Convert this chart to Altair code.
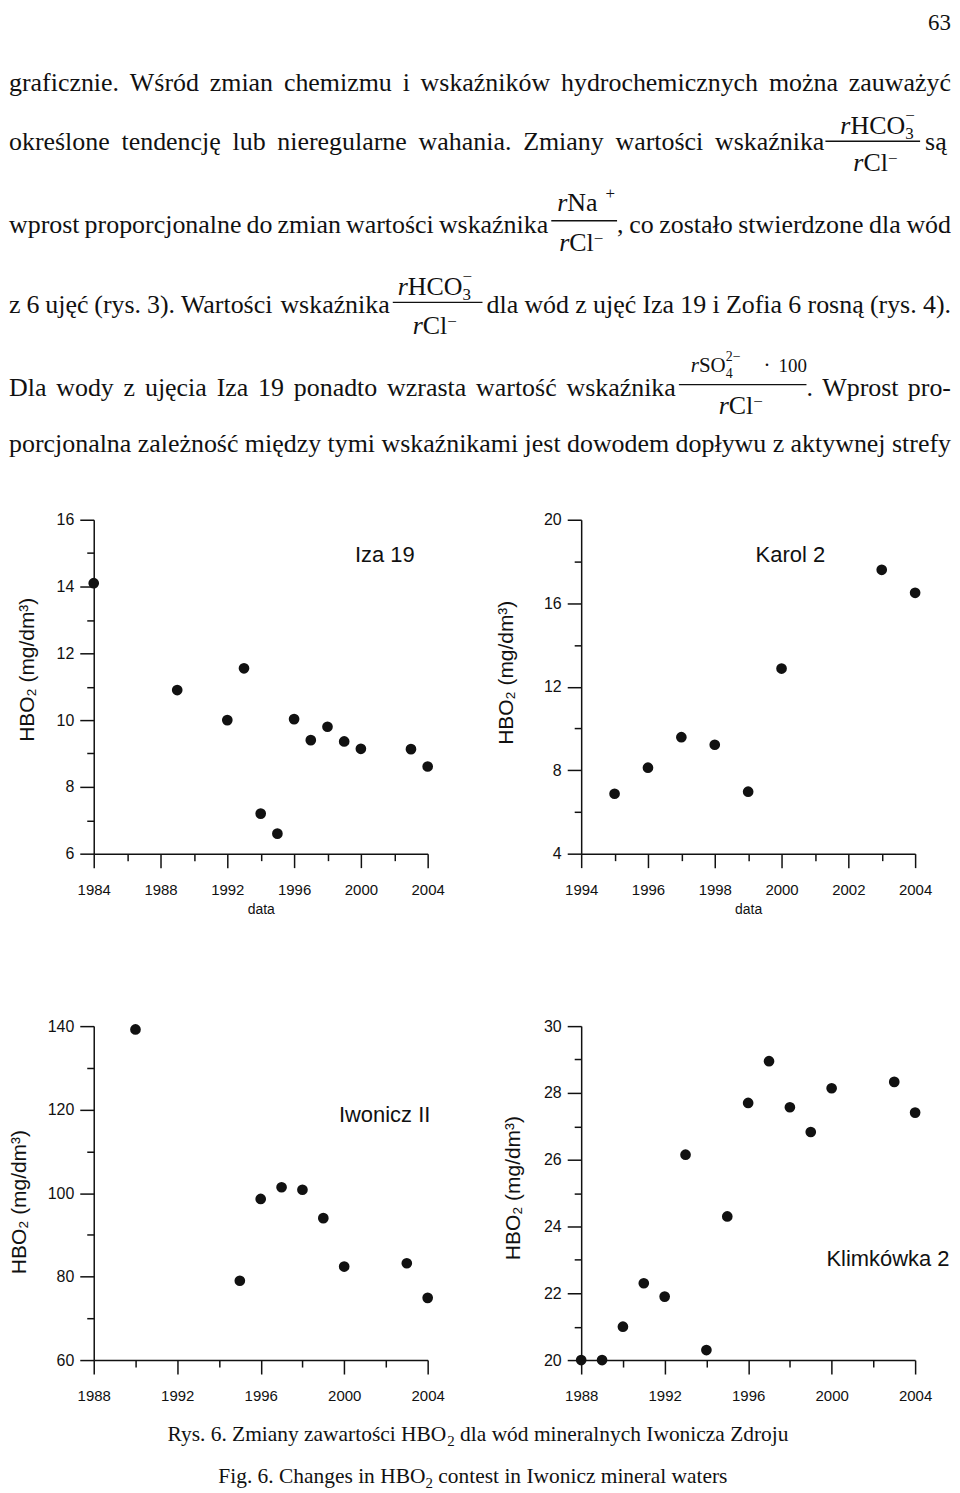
import altair as alt
import pandas as pd

# ---------------- chart data ----------------
iza_years = [1984, 1989, 1992, 1993, 1994, 1995, 1996, 1997, 1998, 1999, 2000, 2003, 2004]
iza_hbo2 = [14.1, 10.9, 10.0, 11.55, 7.2, 6.6, 10.03, 9.4, 9.8, 9.36, 9.14, 9.13, 8.61]

karol_years = [1995, 1996, 1997, 1998, 1999, 2000, 2003, 2004]
karol_hbo2 = [6.87, 8.12, 9.58, 9.22, 6.97, 12.87, 17.6, 16.5]

iwonicz_years = [1990, 1995, 1996, 1997, 1998, 1999, 2000, 2003, 2004]
iwonicz_hbo2 = [139.2, 79.0, 98.6, 101.4, 100.8, 94.0, 82.4, 83.2, 74.9]

klim_years = [1988, 1989, 1990, 1991, 1992, 1993, 1994, 1995, 1996, 1997, 1998, 1999, 2000, 2003, 2004]
klim_hbo2 = [20.0, 20.0, 21.0, 22.3, 21.9, 26.15, 20.3, 24.3, 27.7, 28.95, 27.57, 26.83, 28.14, 28.33, 27.41]

panel_names = ["Iza 19", "Karol 2", "Iwonicz II", "Klimkówka 2"]
y_title = "HBO₂ (mg/dm³)"
x_title = "data"

# ---------------- page text ----------------
page_number = "63"
line1 = "graficznie. Wśród zmian chemizmu i wskaźników hydrochemicznych można zauważyć"
line2a = "określone tendencję lub nieregularne wahania. Zmiany wartości wskaźnika"
line2b = "są"
line3a = "wprost proporcjonalne do zmian wartości wskaźnika"
line3b = ", co zostało stwierdzone dla wód"
line4a = "z 6 ujęć (rys. 3). Wartości wskaźnika"
line4b = "dla wód z ujęć Iza 19 i Zofia 6 rosną (rys. 4)."
line5a = "Dla wody z ujęcia Iza 19 ponadto wzrasta wartość wskaźnika"
line5b = ". Wprost pro-"
line6 = "porcjonalna zależność między tymi wskaźnikami jest dowodem dopływu z aktywnej strefy"
caption_pl = ["Rys. 6. Zmiany zawartości HBO", "2", "dla wód mineralnych Iwonicza Zdroju"]
caption_en = ["Fig. 6. Changes in HBO", "2", "contest in Iwonicz mineral waters"]

# ---------------- text layout helpers (Times metrics) ----------------
W = {
    'a': 444, 'b': 500, 'c': 444, 'd': 500, 'e': 444, 'f': 333, 'g': 500, 'h': 500, 'i': 278,
    'j': 278, 'k': 500, 'l': 278, 'm': 778, 'n': 500, 'o': 500, 'p': 500, 'q': 500, 'r': 333,
    's': 389, 't': 278, 'u': 500, 'v': 500, 'w': 722, 'x': 500, 'y': 500, 'z': 444,
    'ą': 444, 'ć': 444, 'ę': 444, 'ł': 278, 'ń': 500, 'ó': 500, 'ś': 389, 'ź': 444, 'ż': 444,
    'A': 722, 'B': 667, 'C': 667, 'D': 722, 'E': 611, 'F': 556, 'G': 722, 'H': 722, 'I': 333,
    'J': 389, 'K': 722, 'L': 611, 'M': 889, 'N': 722, 'O': 722, 'P': 556, 'Q': 722, 'R': 667,
    'S': 556, 'T': 611, 'U': 722, 'V': 722, 'W': 944, 'X': 722, 'Y': 722, 'Z': 611,
    ' ': 250, '.': 250, ',': 250, '(': 333, ')': 333, '-': 333, '+': 564, '−': 564, '·': 250,
}
W_IT = {'r': 389}


def tw(s, fs, it=False):
    tab = W_IT if it else W
    return sum(tab.get(c, W.get(c, 500)) for c in s) * fs / 1000.0


MARGIN = 8
CAP_TOP = MARGIN + 1353  # page y of caption block
body_items, cap_items = [], []


def put(store, oy, t, x, y, fs, it=False):
    store.append({"x": round(x - MARGIN, 2), "y": round(y - oy, 2), "t": t, "fs": fs, "it": it})


def justify(text, x0, x1, y, fs=26):
    words = text.split(" ")
    ws = [tw(w, fs) for w in words]
    gap = (x1 - x0 - sum(ws)) / (len(words) - 1) if len(words) > 1 else 0
    x = x0
    for w, wd in zip(words, ws):
        put(body_items, MARGIN, w, x, y, fs)
        x += wd + gap


def P(t, fs=26, it=False, dy=0, adv=True, dx=0, at=None):
    return dict(t=t, fs=fs, it=it, dy=dy, adv=adv, dx=dx, at=at)


def run(store, oy, pieces, x, y):
    for p in pieces:
        if p["at"] is not None:
            x = p["at"]
        x += p["dx"]
        put(store, oy, p["t"], x, y + p["dy"], p["fs"], p["it"])
        if p["adv"]:
            x += tw(p["t"], p["fs"], p["it"])


L, R = 8, 953
put(body_items, MARGIN, page_number, 930, 27, 23)
justify(line1, L, R, 88.3)
justify(line2a, L, 826, 146.7)
put(body_items, MARGIN, line2b, 927, 146.7, 26)
justify(line3a, L, 549, 230.5)
justify(line3b, 618, R, 230.5)
justify(line4a, L, 390, 311)
justify(line4b, 487, R, 311)
justify(line5a, L, 677, 394)
justify(line5b, 808, R, 394)
justify(line6, L, R, 450.5)

hco3 = [P("r", it=True), P("HCO"), P("3", 17, dy=5, adv=False), P("−", 17, dy=-13)]
rcl = [P("r", it=True), P("Cl"), P("−", 17, dy=-7)]
rna = [P("r", it=True), P("Na"), P("+", 17, dy=-12, dx=8)]
rso4 = [P("r", 21, it=True), P("SO", 21), P("4", 14, dy=6, adv=False), P("2−", 14, dy=-11),
        P("·", 21, at=765), P("100", 19, at=780)]

run(body_items, MARGIN, hco3, 842, 131)
run(body_items, MARGIN, rcl, 855, 168)
run(body_items, MARGIN, rna, 558, 208)
run(body_items, MARGIN, rcl, 560, 248)
run(body_items, MARGIN, hco3, 398, 293)
run(body_items, MARGIN, rcl, 413, 332)
run(body_items, MARGIN, rso4, 692, 370)
run(body_items, MARGIN, rcl, 720, 412)

bars = pd.DataFrame(
    [(827, 922, 138.3), (552, 618, 218), (393, 483, 300), (680, 808, 382.5)],
    columns=["x", "x2", "y"],
)
bars = bars.assign(x=bars.x - MARGIN, x2=bars.x2 - MARGIN, y=bars.y - MARGIN)

CAP_FS, CAP_SUB = 21.5, 15
SPACE = tw(" ", CAP_FS)
run(cap_items, CAP_TOP, [P(caption_pl[0], CAP_FS), P(caption_pl[1], CAP_SUB, dy=5),
                         P(caption_pl[2], CAP_FS, dx=SPACE)], 167, 1442)
run(cap_items, CAP_TOP, [P(caption_en[0], CAP_FS), P(caption_en[1], CAP_SUB, dy=5),
                         P(caption_en[2], CAP_FS, dx=SPACE)], 218, 1484)

INK = "#111111"
PAGE_W = 944


def text_layers(items, font):
    df = pd.DataFrame(items)
    layers = []
    for italic in (False, True):
        sub = df[df.it == italic][["x", "y", "t", "fs"]]
        if len(sub) == 0:
            continue
        kw = dict(align="left", baseline="alphabetic", font=font, color=INK)
        if italic:
            kw["fontStyle"] = "italic"
        layers.append(
            alt.Chart(sub).mark_text(**kw).encode(
                x=alt.X("x:Q", scale=None, axis=None),
                y=alt.Y("y:Q", scale=None, axis=None),
                text="t:N",
                size=alt.Size("fs:Q", scale=None),
            )
        )
    return layers


rules = alt.Chart(bars).mark_rule(color=INK, strokeWidth=1.4).encode(
    x=alt.X("x:Q", scale=None, axis=None), x2="x2:Q", y=alt.Y("y:Q", scale=None, axis=None)
)
text_chart = alt.layer(*text_layers(body_items, "Liberation Serif"), rules).properties(width=PAGE_W, height=510)
caption_chart = alt.layer(*text_layers(cap_items, "Liberation Serif")).properties(width=PAGE_W, height=121)

# ---------------- scatter panels ----------------
SANS = "Liberation Sans"
PW = 335          # panel plot size
LEFT_X = [85, 574]  # plot-area left edges of the two panels in a row


def axis_common():
    return dict(grid=False, domainColor=INK, domainWidth=1.5, tickColor=INK, tickWidth=1.5,
                labelColor=INK, labelFont=SANS, labelFlush=False, labelOverlap=False,
                titleFont=SANS, titleColor=INK, titleFontWeight="normal")


def panel_layers(years, vals, name, x0, xdom, xstep, xlab, ydom, ystep, ylab,
                 name_x, name_y, yt_x, yt_y, show_xtitle):
    df = pd.DataFrame({"rok": years, "hbo2": vals})
    xkw = axis_common()
    xkw.update(
        orient="bottom",
        values=list(range(xdom[0], xdom[1] + 1, xstep)), format="d",
        labelExpr=f"datum.value % {xlab} === 0 ? datum.label : ''",
        tickSize=alt.condition(f"datum.value % {xlab} === 0", alt.value(14), alt.value(7)),
        labelPadding=15, labelFontSize=15,
    )
    if show_xtitle:
        xkw.update(title=x_title, titleFontSize=14, titleX=x0 + PW / 2, titleY=60,
                   titleAlign="center", titleBaseline="alphabetic")
    else:
        xkw.update(title="")
    ykw = axis_common()
    ykw.update(
        orient="left", offset=-x0,
        values=list(range(ydom[0], ydom[1] + 1, ystep)), format="d",
        labelExpr=f"datum.value % {ylab} === 0 ? datum.label : ''",
        tickSize=alt.condition(f"datum.value % {ylab} === 0", alt.value(14), alt.value(7)),
        labelPadding=6, labelFontSize=16,
        title=y_title, titleFontSize=21, titleX=yt_x, titleY=yt_y, titleAngle=270,
        titleAlign="center", titleBaseline="alphabetic",
    )
    pts = alt.Chart(df).mark_circle(size=115, color=INK, opacity=1).encode(
        x=alt.X("rok:Q", scale=alt.Scale(domain=list(xdom), range=[x0, x0 + PW], nice=False, zero=False),
                axis=alt.Axis(**xkw)),
        y=alt.Y("hbo2:Q", scale=alt.Scale(domain=list(ydom), nice=False, zero=False), axis=alt.Axis(**ykw)),
    )
    label = alt.Chart(pd.DataFrame({"n": [name]})).mark_text(
        align="left", baseline="alphabetic", font=SANS, fontSize=22, color=INK
    ).encode(x=alt.value(x0 + name_x), y=alt.value(name_y), text="n:N")
    return pts, label


def row(a, b):
    pa, la = a
    pb, lb = b
    return alt.layer(pa, pb, la, lb).resolve_scale(x="independent", y="independent").properties(
        width=PAGE_W, height=PW
    )


def spacer(w, h):
    return alt.Chart(pd.DataFrame({"s": [""]})).mark_point(opacity=0, size=1).encode(
        x=alt.value(w / 2), y=alt.value(h / 2)
    ).properties(width=w, height=h)


p1 = panel_layers(iza_years, iza_hbo2, panel_names[0], LEFT_X[0], (1984, 2004), 2, 4, (6, 16), 1, 2,
                  262, 42, -60, 150, True)
p2 = panel_layers(karol_years, karol_hbo2, panel_names[1], LEFT_X[1], (1994, 2004), 1, 2, (4, 20), 2, 4,
                  175, 42, -69, 153, True)
p3 = panel_layers(iwonicz_years, iwonicz_hbo2, panel_names[2], LEFT_X[0], (1988, 2004), 2, 4, (60, 140), 10, 20,
                  246, 96, -68, 176, False)
p4 = panel_layers(klim_years, klim_hbo2, panel_names[3], LEFT_X[1], (1988, 2004), 2, 4, (20, 30), 1, 2,
                  246, 241, -62, 162, False)

chart = alt.vconcat(
    text_chart, row(p1, p2), spacer(PAGE_W, 173), row(p3, p4), caption_chart,
    spacing=0, bounds="flush"
).properties(padding=0).configure_view(stroke="transparent")

chart.save("out.html", embed_options={"renderer": "svg", "actions": False})
